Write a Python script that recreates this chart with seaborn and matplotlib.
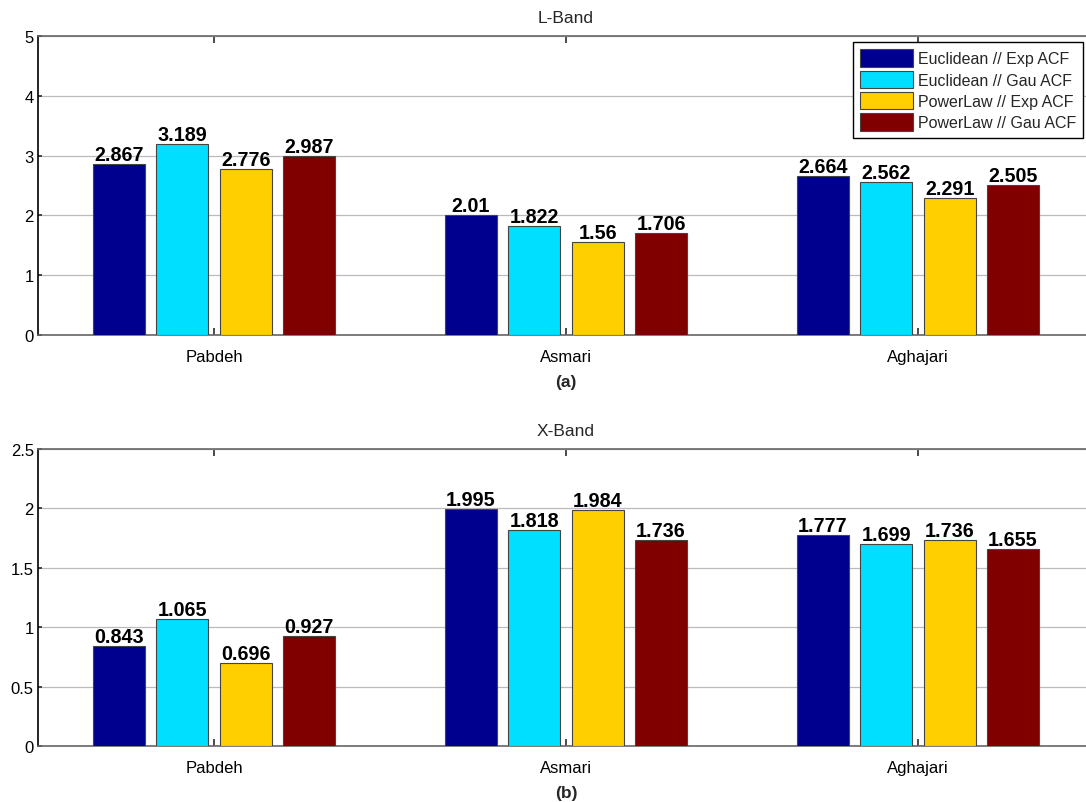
import matplotlib
matplotlib.use("Agg")
import matplotlib.pyplot as plt
import seaborn as sns
import pandas as pd

# Formations and estimation methods
formations = ["Pabdeh", "Asmari", "Aghajari"]
methods = ["Euclidean // Exp ACF", "Euclidean // Gau ACF",
           "PowerLaw // Exp ACF", "PowerLaw // Gau ACF"]

# L-Band values, one list per method (Pabdeh, Asmari, Aghajari)
l_euc_exp = [2.867, 2.01, 2.664]
l_euc_gau = [3.189, 1.822, 2.562]
l_pow_exp = [2.776, 1.56, 2.291]
l_pow_gau = [2.987, 1.706, 2.505]

# X-Band values
x_euc_exp = [0.843, 1.995, 1.777]
x_euc_gau = [1.065, 1.818, 1.699]
x_pow_exp = [0.696, 1.984, 1.736]
x_pow_gau = [0.927, 1.736, 1.655]

l_ticks = [0, 1, 2, 3, 4, 5]
x_ticks = [0, 0.5, 1, 1.5, 2, 2.5]

colors = ["#00008F", "#00DFFF", "#FFCF00", "#800000"]


def to_frame(series):
    rows = []
    for method, vals in zip(methods, series):
        for f, v in zip(formations, vals):
            rows.append({"Formation": f, "Method": method, "Value": v})
    return pd.DataFrame(rows)


sns.set_theme(style="white")
plt.rcParams["font.family"] = ["Liberation Sans", "DejaVu Sans"]

W, H = 1086, 803
fig = plt.figure(figsize=(W / 100, H / 100), dpi=100)


def px_axes(left, top, right, bottom):
    return fig.add_axes([left / W, 1 - bottom / H, (right - left) / W, (bottom - top) / H])


ax1 = px_axes(38, 37, 1094, 336)
ax2 = px_axes(38, 450, 1094, 747)

panels = [
    (ax1, to_frame([l_euc_exp, l_euc_gau, l_pow_exp, l_pow_gau]), "L-Band", "(a)", l_ticks),
    (ax2, to_frame([x_euc_exp, x_euc_gau, x_pow_exp, x_pow_gau]), "X-Band", "(b)", x_ticks),
]

for i, (ax, df, title, tag, yt) in enumerate(panels):
    sns.barplot(data=df, x="Formation", y="Value", hue="Method",
                hue_order=methods, order=formations, palette=colors,
                saturation=1, width=0.72, gap=0.18, edgecolor="#444444",
                linewidth=0.8, errorbar=None, ax=ax, legend=(i == 0), zorder=3)
    for cont in ax.containers:
        ax.bar_label(cont, fmt="%g", padding=0, fontsize=14.2,
                     fontweight="bold", color="black")
    ax.set_xlim(-0.5, 2.5)
    ax.set_ylim(yt[0], yt[-1])
    ax.set_yticks(yt)
    ax.set_yticklabels([f"{t:g}" for t in yt])
    ax.set_xlabel(tag, fontsize=12.5, fontweight="bold", labelpad=7.5)
    ax.set_ylabel("")
    ax.set_title(title, fontsize=12.5, pad=10)
    ax.yaxis.grid(True, color="#BBBBBB", linewidth=0.9, zorder=0)
    ax.set_axisbelow(True)
    ax.tick_params(axis="both", labelsize=12, direction="in", length=3,
                   colors="#333333", labelcolor="black")
    ax.tick_params(axis="x", top=True, bottom=True, length=5, pad=10)
    ax.tick_params(axis="y", left=True, pad=3)
    ax.spines["left"].set_color("black")
    ax.spines["left"].set_linewidth(1.2)
    for s in ("top", "bottom", "right"):
        ax.spines[s].set_color("#666666")
        ax.spines[s].set_linewidth(1.2)

leg = ax1.legend(loc="upper right", bbox_to_anchor=(1083 / W, 1 - 43 / H),
                 bbox_transform=fig.transFigure, fontsize=11.5, frameon=True,
                 fancybox=False, edgecolor="black", framealpha=1,
                 handlelength=3.3, handleheight=1.3, handletextpad=0.3,
                 labelspacing=0.25, borderpad=0.45, borderaxespad=0)
leg.get_frame().set_linewidth(1.0)

fig.savefig("out.png", dpi=100)
